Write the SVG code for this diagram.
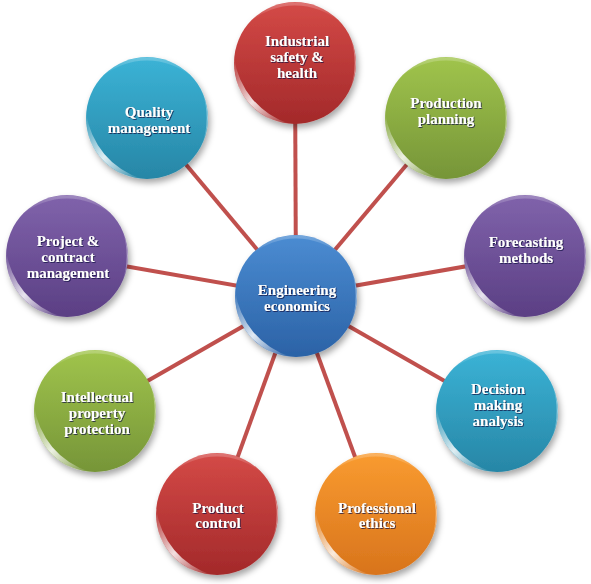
<svg xmlns="http://www.w3.org/2000/svg" width="591" height="584" viewBox="0 0 591 584">
<defs>
<style>
.lbl{font-family:"Liberation Serif","Times New Roman",serif;font-weight:bold;font-size:15px;fill:#ffffff;text-anchor:middle;filter:url(#ts)}
.conn line{stroke:#c0504d;stroke-width:4;stroke-linecap:butt}
.hl{fill:url(#hlg)}
.rim{fill:url(#rimg)}
</style>
<filter id="sh" x="-20%" y="-20%" width="150%" height="150%">
<feDropShadow dx="2" dy="4" stdDeviation="3" flood-color="#000" flood-opacity="0.35"/>
</filter>
<filter id="ts" x="-10%" y="-30%" width="120%" height="160%">
<feDropShadow dx="0.8" dy="0.8" stdDeviation="0.3" flood-color="#0a0a40" flood-opacity="0.9"/>
</filter>
<linearGradient id="gBlue" x1="0" y1="0" x2="0" y2="1"><stop offset="0" stop-color="#4b8cd2"/><stop offset="1" stop-color="#2b62a6"/></linearGradient>
<linearGradient id="gRed" x1="0" y1="0" x2="0" y2="1"><stop offset="0" stop-color="#d44a47"/><stop offset="1" stop-color="#a3292a"/></linearGradient>
<linearGradient id="gGreen" x1="0" y1="0" x2="0" y2="1"><stop offset="0" stop-color="#a0c44c"/><stop offset="1" stop-color="#769538"/></linearGradient>
<linearGradient id="gPurple" x1="0" y1="0" x2="0" y2="1"><stop offset="0" stop-color="#8063ab"/><stop offset="1" stop-color="#5b3f84"/></linearGradient>
<linearGradient id="gAqua" x1="0" y1="0" x2="0" y2="1"><stop offset="0" stop-color="#3bb3d6"/><stop offset="1" stop-color="#2786a6"/></linearGradient>
<linearGradient id="gOrange" x1="0" y1="0" x2="0" y2="1"><stop offset="0" stop-color="#f99b30"/><stop offset="1" stop-color="#d8741c"/></linearGradient>
<linearGradient id="hlg" x1="0" y1="0" x2="1" y2="1"><stop offset="0" stop-color="#fff" stop-opacity="0"/><stop offset="0.5" stop-color="#fff" stop-opacity="0.85"/><stop offset="1" stop-color="#fff" stop-opacity="0"/></linearGradient>
<linearGradient id="rimg" x1="0" y1="0" x2="0" y2="1"><stop offset="0" stop-color="#fff" stop-opacity="0"/><stop offset="0.5" stop-color="#fff" stop-opacity="0.6"/><stop offset="1" stop-color="#fff" stop-opacity="0"/></linearGradient>
<linearGradient id="topg" x1="0" y1="0" x2="0" y2="1"><stop offset="0" stop-color="#fff" stop-opacity="0.25"/><stop offset="1" stop-color="#fff" stop-opacity="0"/></linearGradient>
<g id="ball">
<path class="hl" d="M -60.8,-5.3 A 61 61 0 0 0 -5.3,60.8 A 80 80 0 0 1 -60.8,-5.3 Z"/>
<path class="rim" d="M 55,-26 A 61 61 0 0 1 55,26 A 75 75 0 0 0 55,-26 Z"/>
<path fill="url(#topg)" d="M -45,-41 A 61 61 0 0 1 45,-41 A 70 70 0 0 0 -45,-41 Z"/>
</g>
</defs>
<rect width="591" height="584" fill="#ffffff"/>
<g id="connectors" class="conn">
<line x1="296" y1="296" x2="295" y2="63"/>
<line x1="296" y1="296" x2="446" y2="118"/>
<line x1="296" y1="296" x2="525" y2="256"/>
<line x1="296" y1="296" x2="497" y2="411"/>
<line x1="296" y1="296" x2="376" y2="514"/>
<line x1="296" y1="296" x2="217" y2="514"/>
<line x1="296" y1="296" x2="95" y2="411"/>
<line x1="296" y1="296" x2="67" y2="256"/>
<line x1="296" y1="296" x2="147" y2="118"/>
</g>
<g id="node-safety">
<circle cx="295" cy="63" r="61" fill="url(#gRed)" filter="url(#sh)"/>
<use href="#ball" x="295" y="63"/>
<text class="lbl" x="297" y="46">Industrial</text>
<text class="lbl" x="297" y="62">safety &amp;</text>
<text class="lbl" x="297" y="78">health</text>
</g>
<g id="node-production">
<circle cx="446" cy="118" r="61" fill="url(#gGreen)" filter="url(#sh)"/>
<use href="#ball" x="446" y="118"/>
<text class="lbl" x="446" y="108">Production</text>
<text class="lbl" x="446" y="124">planning</text>
</g>
<g id="node-forecasting">
<circle cx="525" cy="256" r="61" fill="url(#gPurple)" filter="url(#sh)"/>
<use href="#ball" x="525" y="256"/>
<text class="lbl" x="526" y="247">Forecasting</text>
<text class="lbl" x="526" y="263">methods</text>
</g>
<g id="node-decision">
<circle cx="497" cy="411" r="61" fill="url(#gAqua)" filter="url(#sh)"/>
<use href="#ball" x="497" y="411"/>
<text class="lbl" x="498" y="394">Decision</text>
<text class="lbl" x="498" y="410">making</text>
<text class="lbl" x="498" y="426">analysis</text>
</g>
<g id="node-ethics">
<circle cx="376" cy="514" r="61" fill="url(#gOrange)" filter="url(#sh)"/>
<use href="#ball" x="376" y="514"/>
<text class="lbl" x="377" y="513">Professional</text>
<text class="lbl" x="377" y="528">ethics</text>
</g>
<g id="node-product">
<circle cx="217" cy="514" r="61" fill="url(#gRed)" filter="url(#sh)"/>
<use href="#ball" x="217" y="514"/>
<text class="lbl" x="218" y="513">Product</text>
<text class="lbl" x="218" y="528">control</text>
</g>
<g id="node-ip">
<circle cx="95" cy="411" r="61" fill="url(#gGreen)" filter="url(#sh)"/>
<use href="#ball" x="95" y="411"/>
<text class="lbl" x="97" y="402">Intellectual</text>
<text class="lbl" x="97" y="418">property</text>
<text class="lbl" x="97" y="434">protection</text>
</g>
<g id="node-project">
<circle cx="67" cy="256" r="61" fill="url(#gPurple)" filter="url(#sh)"/>
<use href="#ball" x="67" y="256"/>
<text class="lbl" x="68" y="246">Project &amp;</text>
<text class="lbl" x="68" y="262">contract</text>
<text class="lbl" x="68" y="278">management</text>
</g>
<g id="node-quality">
<circle cx="147" cy="118" r="61" fill="url(#gAqua)" filter="url(#sh)"/>
<use href="#ball" x="147" y="118"/>
<text class="lbl" x="149" y="117">Quality</text>
<text class="lbl" x="149" y="133">management</text>
</g>
<g id="node-center">
<circle cx="296" cy="296" r="61" fill="url(#gBlue)" filter="url(#sh)"/>
<use href="#ball" x="296" y="296"/>
<text class="lbl" x="297" y="295">Engineering</text>
<text class="lbl" x="297" y="311">economics</text>
</g>
</svg>
